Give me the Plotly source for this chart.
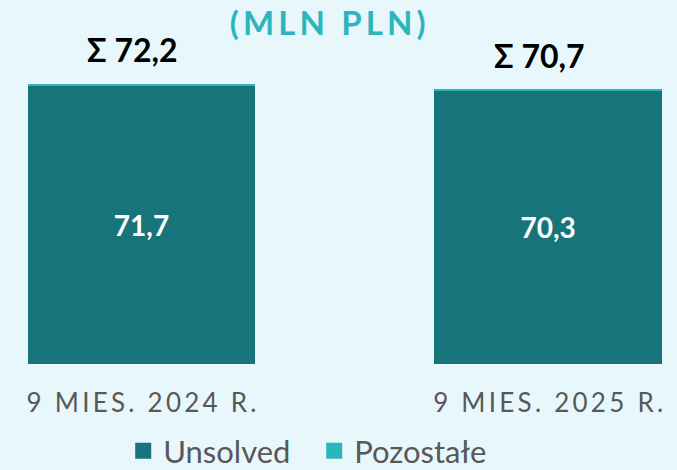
import plotly.graph_objects as go

periods = ["9 MIES. 2024 R.", "9 MIES. 2025 R."]
unsolved = [71.7, 70.3]
pozostale = [0.5, 0.4]
series_names = ["Unsolved", "Pozostałe"]
title_text = "(MLN PLN)"

dark_teal = '#17747a'
light_teal = '#2db5bd'
bg_color = '#e8f7fb'
gray = '#585858'


def spaced(s, sep='\u200a'):
    # fake letter-spacing with thin spaces
    return sep.join(list(s))


def pl(v):
    return f"{v:.1f}".replace('.', ',')


totals = [a + b for a, b in zip(unsolved, pozostale)]
xs = list(range(len(periods)))

fig = go.Figure()
fig.add_trace(go.Bar(
    x=xs, y=unsolved, name=series_names[0], width=0.56, showlegend=False,
    marker=dict(color=dark_teal, line=dict(width=0)),
    text=[pl(v) for v in unsolved], textposition='inside', insidetextanchor='middle',
    textfont=dict(family='Lato', size=28, color='white', weight='bold'),
    cliponaxis=False, hoverinfo='skip',
))
fig.add_trace(go.Bar(
    x=xs, y=pozostale, name=series_names[1], width=0.56, showlegend=False,
    marker=dict(color=light_teal, line=dict(width=0)),
    textposition='none', cliponaxis=False, hoverinfo='skip',
))
# legend entries with bigger squares
for name, col in zip(series_names, [dark_teal, light_teal]):
    fig.add_trace(go.Scatter(x=[None], y=[None], mode='markers', name=name,
                             marker=dict(symbol='square', size=18, color=col)))

for x, t in zip(xs, totals):
    fig.add_annotation(x=x, y=t, text="<b>Σ " + pl(t) + "</b>", showarrow=False,
                       yshift=34, xshift=-9, font=dict(family='Lato', size=32, color='black'))

fig.update_layout(
    title=dict(text="<b>" + spaced(title_text, '\u2009') + "</b>", x=0.484, xanchor='center',
               y=1 - 23 / 470, yanchor='middle', yref='container',
               font=dict(family='Lato', size=33, color=light_teal), automargin=False),
    barmode='stack',
    width=677, height=470,
    margin=dict(l=0, r=0, t=30, b=106, autoexpand=False),
    plot_bgcolor=bg_color, paper_bgcolor=bg_color,
    showlegend=True,
    legend=dict(orientation='h', x=0.182, xanchor='left', y=1 - 451 / 470, yanchor='middle',
                yref='container', entrywidth=146,
                font=dict(family='Lato', size=31, color=gray), itemwidth=30,
                itemsizing='trace', traceorder='normal', bgcolor='rgba(0,0,0,0)'),
)
fig.update_xaxes(range=[-0.348, 1.317], tickvals=xs, ticktext=[spaced(p, '\u2009') for p in periods],
                 tickfont=dict(family='Lato', size=26, color=gray), automargin=False,
                 ticks='outside', ticklen=16, tickcolor='rgba(0,0,0,0)',
                 showgrid=False, zeroline=False, showline=False)
fig.update_yaxes(range=[0, 86], visible=False, showgrid=False)

fig.write_html("out.html", config={'displayModeBar': False},
               post_script="document.body.style.margin='0';")
